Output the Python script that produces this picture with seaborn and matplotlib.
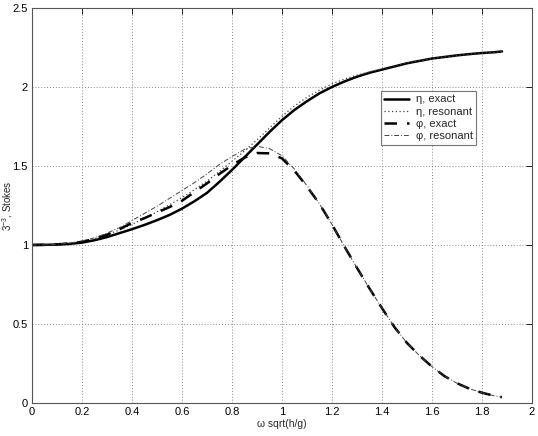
import numpy as np
import pandas as pd
import seaborn as sns
import matplotlib
matplotlib.use('Agg')
import matplotlib.pyplot as plt

# values (step 0.05)
x = [0, 0.05, 0.1, 0.15, 0.2, 0.25, 0.3, 0.35, 0.4, 0.45, 0.5, 0.55, 0.6,
     0.65, 0.7, 0.75, 0.8, 0.85, 0.9, 0.95, 1.0, 1.05, 1.1, 1.15, 1.2,
     1.25, 1.3, 1.35, 1.4, 1.45, 1.5, 1.55, 1.6, 1.65, 1.7, 1.75, 1.8,
     1.85, 1.88]

eta_exact = [1.0, 1.001, 1.003, 1.007, 1.015, 1.03, 1.05, 1.075, 1.10, 1.127,
             1.157, 1.19, 1.23, 1.277, 1.33, 1.40, 1.475, 1.555, 1.635,
             1.715, 1.79, 1.855, 1.91, 1.96, 2.0, 2.035, 2.065, 2.09, 2.11,
             2.13, 2.15, 2.165, 2.18, 2.19, 2.20, 2.208, 2.215, 2.22, 2.225]
eta_res = [1.0, 1.001, 1.004, 1.01, 1.02, 1.04, 1.065, 1.095, 1.13, 1.17,
           1.21, 1.255, 1.30, 1.35, 1.405, 1.465, 1.53, 1.595, 1.665, 1.74,
           1.815, 1.88, 1.935, 1.98, 2.02, 2.05, 2.075, 2.095, 2.115, 2.133,
           2.152, 2.166, 2.18, 2.19, 2.20, 2.208, 2.215, 2.22, 2.225]
phi_exact = [1.0, 1.001, 1.004, 1.01, 1.02, 1.04, 1.065, 1.10, 1.14, 1.17,
             1.205, 1.24, 1.28, 1.335, 1.39, 1.45, 1.505, 1.553, 1.582,
             1.58, 1.548, 1.47, 1.37, 1.26, 1.13, 0.99, 0.855, 0.725, 0.60,
             0.48, 0.38, 0.30, 0.23, 0.17, 0.125, 0.09, 0.065, 0.045, 0.037]
phi_res = [1.0, 1.001, 1.005, 1.012, 1.025, 1.045, 1.075, 1.11, 1.155, 1.20,
           1.245, 1.295, 1.345, 1.395, 1.45, 1.51, 1.56, 1.605, 1.625, 1.61,
           1.565, 1.48, 1.375, 1.26, 1.13, 0.99, 0.855, 0.725, 0.60, 0.48,
           0.38, 0.30, 0.23, 0.17, 0.125, 0.09, 0.065, 0.045, 0.037]

labels = ['η, exact', 'η, resonant', 'φ, exact', 'φ, resonant']
xticks = [0, 0.2, 0.4, 0.6, 0.8, 1, 1.2, 1.4, 1.6, 1.8, 2]
yticks = [0, 0.5, 1, 1.5, 2, 2.5]

sns.set_style('white')
plt.rcParams['font.family'] = ['Liberation Sans', 'DejaVu Sans']
plt.rcParams['mathtext.fontset'] = 'custom'
plt.rcParams['mathtext.rm'] = 'Liberation Sans'
plt.rcParams['mathtext.it'] = 'Liberation Sans'

fig = plt.figure(figsize=(5.38, 4.36), dpi=100)
ax = fig.add_axes([0.0595, 0.0757, 0.9293, 0.906])

# one entry per curve: data + line style
curves = [
    (eta_exact, dict(color='black', lw=1.8, linestyle='-')),
    (eta_res, dict(color='#444444', lw=0.9, linestyle=(0, (1, 2)))),
    (phi_exact, dict(color='black', lw=1.8, linestyle=(0, (5, 4)))),
    (phi_res, dict(color='#444444', lw=0.7, linestyle=(0, (5, 2, 1, 2)))),
]

for (vals, style), lab in zip(curves, labels):
    sns.lineplot(x=x, y=vals, ax=ax, label=lab, **style)

ax.set_xlim(0, 2)
ax.set_ylim(0, 2.5)
ax.set_xticks(xticks)
ax.set_xticklabels([f'{t:g}' for t in xticks])
ax.set_yticks(yticks)
ax.set_yticklabels([f'{t:g}' for t in yticks])

ax.grid(True, linestyle=(0, (1, 2)), color='#888888', lw=0.7)
ax.tick_params(direction='in', length=4, width=0.6, labelsize=8,
               top=True, right=True, colors='black', pad=3)
for sp in ax.spines.values():
    sp.set_color('#555555')
    sp.set_linewidth(0.8)

ax.set_xlabel('ω sqrt(h/g)', fontsize=7.5, labelpad=1)
ax.set_ylabel('3$^{-3}$, Stokes', fontsize=7)
ax.yaxis.set_label_coords(-0.035, 0.5)

leg = ax.legend(loc='upper left', bbox_to_anchor=(0.686, 0.805), fontsize=8,
                frameon=True, fancybox=False, edgecolor='#555555',
                handlelength=2.2, borderpad=0.35, labelspacing=0.2,
                handletextpad=0.6)
leg.get_frame().set_linewidth(0.8)

fig.savefig('out.png', dpi=100)
